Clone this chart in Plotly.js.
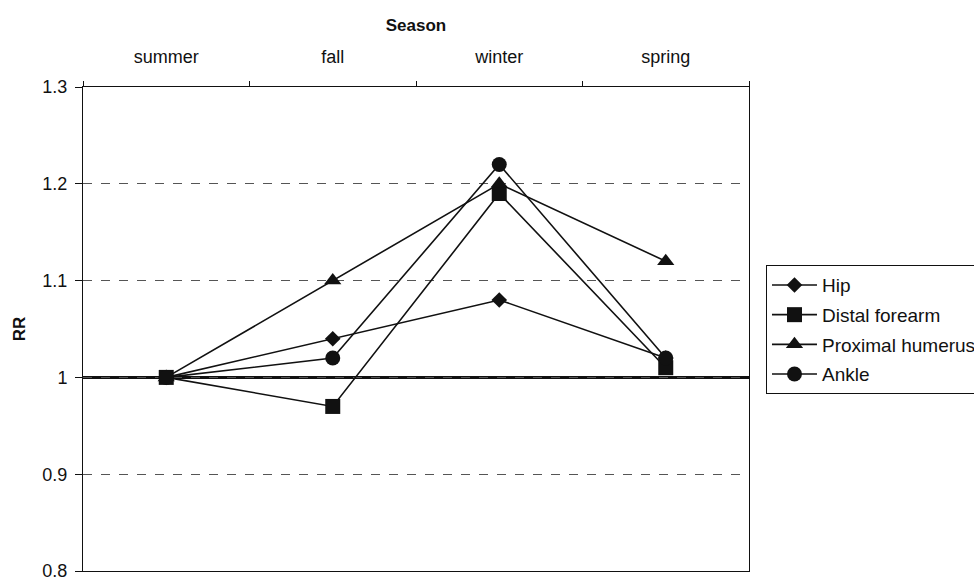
<!DOCTYPE html>
<html>
<head>
<meta charset="utf-8">
<script src="https://cdn.plot.ly/plotly-3.0.1.min.js"></script>
<style>html,body{margin:0;padding:0;background:#fff;}#chart{width:974px;height:580px;}</style>
</head>
<body>
<div id="chart"></div>
<script>
const seasons = ["summer", "fall", "winter", "spring"];
const hip = [1.00, 1.04, 1.08, 1.02];
const distalForearm = [1.00, 0.97, 1.19, 1.01];
const proximalHumerus = [1.00, 1.10, 1.20, 1.12];
const ankle = [1.00, 1.02, 1.22, 1.02];
const seriesNames = ["Hip", "Distal forearm", "Proximal humerus", "Ankle"];
const yTicks = [0.8, 0.9, 1, 1.1, 1.2, 1.3];
const yTickText = ["0.8", "0.9", "1", "1.1", "1.2", "1.3"];
const referenceRR = 1;

const symbols = ["diamond", "square", "triangle-up", "circle"];
const sizes = [12, 15, 15, 15];
const data = [hip, distalForearm, proximalHumerus, ankle].map((vals, i) => ({
  x: seasons, y: vals, name: seriesNames[i], type: "scatter", mode: "lines+markers",
  legendgroup: "g" + i,
  line: {color: "#111", width: 1.6},
  marker: {symbol: symbols[i], size: sizes[i], color: "#111"}
}));

const font = {family: "Liberation Sans, Arial, sans-serif", color: "#111", size: 18};
const layout = {
  width: 974, height: 580,
  margin: {l: 83, r: 225, t: 87, b: 9, autoexpand: false},
  paper_bgcolor: "#fff", plot_bgcolor: "#fff",
  font: font,
  showlegend: true,
  legend: {x: 1.0255, y: 0.632, xanchor: "left", yanchor: "top",
    bordercolor: "#111", borderwidth: 1, bgcolor: "#fff",
    font: {family: font.family, size: 19, color: "#111"},
    itemwidth: 45,
    traceorder: "grouped", tracegroupgap: 2},
  xaxis: {side: "top", type: "category", range: [-0.5, 3.5],
    tickson: "boundaries", ticks: "outside", ticklen: 5, tickcolor: "#111",
    showline: true, linecolor: "#111", linewidth: 1, mirror: true,
    showgrid: false, zeroline: false, fixedrange: true,
    tickfont: {size: 18}, ticklabelstandoff: 16,
    title: {text: "<b>Season</b>", font: {size: 17}, standoff: 10}},
  yaxis: {range: [0.8, 1.3], tickvals: yTicks, ticktext: yTickText,
    ticks: "outside", ticklen: 7, tickcolor: "#111",
    showline: true, linecolor: "#111", linewidth: 1, mirror: true,
    showgrid: true, gridcolor: "#555", griddash: "dash", gridwidth: 1,
    zeroline: false, tickfont: {size: 18}, ticklabelstandoff: 4,
    ticklabeloverflow: "allow",
    title: {text: "<b>RR</b>", font: {size: 17}, standoff: 12}},
  shapes: [{type: "line", xref: "paper", x0: 0, x1: 1, yref: "y", y0: referenceRR, y1: referenceRR,
    line: {color: "#111", width: 3}, layer: "below"}]
};
Plotly.newPlot("chart", data, layout, {displayModeBar: false, staticPlot: true});
</script>
</body>
</html>
